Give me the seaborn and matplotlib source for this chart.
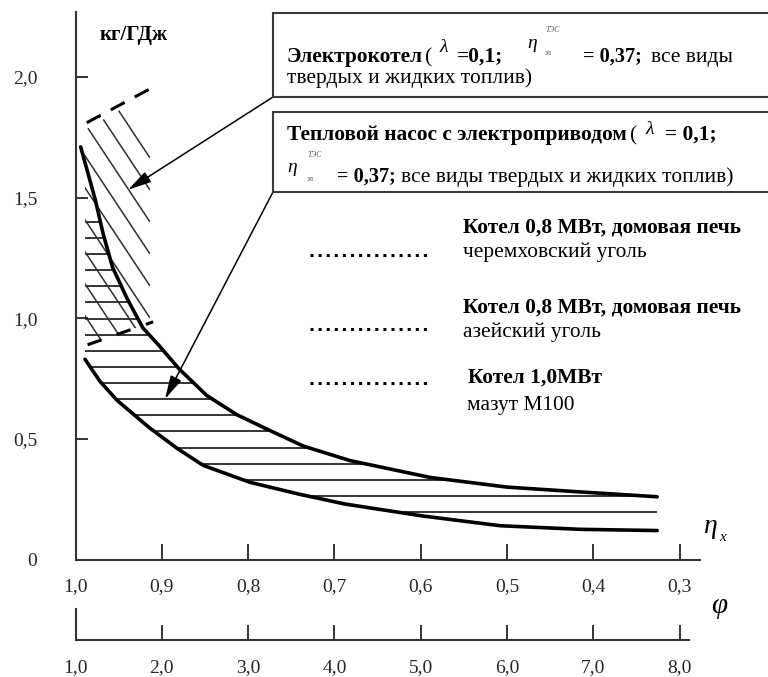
import numpy as np
import matplotlib
matplotlib.use('Agg')
import matplotlib.pyplot as plt
import matplotlib.patches as patches
from matplotlib.lines import Line2D
from matplotlib.collections import LineCollection
import seaborn as sns

sns.set_style('white')
plt.rcParams['font.family'] = ['Liberation Serif', 'DejaVu Serif']

# boiler efficiency (x) vs specific fuel consumption, kg/GJ (y)
# upper border of the heat pump zone
eta_upper = [0.994, 0.977, 0.968, 0.957, 0.940, 0.922, 0.904, 0.880, 0.848,
             0.813, 0.778, 0.736, 0.682, 0.589, 0.500, 0.415, 0.326]
val_upper = [1.71, 1.49, 1.35, 1.21, 1.08, 0.96, 0.89, 0.79, 0.68,
             0.60, 0.54, 0.47, 0.41, 0.34, 0.30, 0.28, 0.26]
# lower border of the heat pump zone
eta_lower = [0.989, 0.972, 0.952, 0.914, 0.882, 0.852, 0.798, 0.740, 0.688,
             0.597, 0.508, 0.415, 0.326]
val_lower = [0.83, 0.74, 0.66, 0.545, 0.46, 0.39, 0.32, 0.27, 0.23,
             0.18, 0.14, 0.125, 0.12]

# electric boiler zone (dashed borders)
eb_top_eta = [0.987, 0.914]
eb_top_val = [1.81, 1.95]
eb_bot_eta = [0.986, 0.910]
eb_bot_val = [0.89, 0.985]

eta_ticks = [1.0, 0.9, 0.8, 0.7, 0.6, 0.5, 0.4, 0.3]
eta_labels = ['1,0', '0,9', '0,8', '0,7', '0,6', '0,5', '0,4', '0,3']
phi_ticks = [1, 2, 3, 4, 5, 6, 7, 8]
phi_labels = ['1,0', '2,0', '3,0', '4,0', '5,0', '6,0', '7,0', '8,0']
val_ticks = [0, 0.5, 1.0, 1.5, 2.0]
val_labels = ['0', '0,5', '1,0', '1,5', '2,0']

W, H = 768, 677
fig = plt.figure(figsize=(W / 100, H / 100), dpi=100)


def fx(x):
    return x / W


def fy(y):
    return 1 - y / H


def put(x, y, s, size=15.4, weight='normal', style='normal', color='black'):
    fig.text(fx(x), fy(y), s, fontsize=size, fontweight=weight, fontstyle=style,
             color=color, ha='left', va='baseline', zorder=10)


axc = '#333333'
ax = fig.add_axes([fx(75.5), fy(559.5), (700 - 75.5) / W, (559.5 - 12) / H])
ax.set_xlim(1.0, 0.2764)
ax.set_ylim(0, 2.269)

# horizontal hatching of the heat pump zone
levels = np.linspace(0.197, 1.399, 19)
x_left = np.interp(levels, val_lower[::-1], eta_lower[::-1])
x_right = np.interp(levels, val_upper[::-1], eta_upper[::-1])
ax.hlines(levels, x_left, x_right, color='black', lw=1.1, zorder=2)

# diagonal hatching of the electric boiler zone
clip = patches.Polygon([(0.989, 1.78), (0.9137, 1.935), (0.9137, 0.98), (0.989, 0.885)],
                       closed=True, transform=ax.transData)
segs = []
for c in np.arange(158, 430, 32):
    v0 = (559.5 - c) / 241.25
    segs.append([(0.9137, v0), (1.0, v0 + 5.4 * 0.0863)])
lc = LineCollection(segs, colors='#303030', linewidths=1.1, zorder=2)
lc.set_clip_path(clip)
ax.add_collection(lc)

ax.plot(eb_top_eta, eb_top_val, color='black', lw=2.2, ls=(0, (5.2, 3.7)), zorder=3)
ax.plot(eb_bot_eta, eb_bot_val, color='black', lw=2.2, ls=(0, (4.8, 5.3)), zorder=3)

sns.lineplot(x=eta_upper, y=val_upper, sort=False, color='black', lw=2.6, ax=ax, zorder=4)
sns.lineplot(x=eta_lower, y=val_lower, sort=False, color='black', lw=2.6, ax=ax, zorder=4)

ax.set_xticks(eta_ticks, eta_labels)
ax.set_yticks(val_ticks, val_labels)
ax.tick_params(axis='x', bottom=True, direction='in', length=11.5, width=1.4, pad=13.3,
               labelsize=14, color=axc)
ax.tick_params(axis='y', left=True, direction='in', length=8.6, width=1.4, pad=27.4,
               labelsize=14, color=axc)
ax.yaxis.get_major_ticks()[0].tick1line.set_visible(False)
ax.spines[['top', 'right']].set_visible(False)
for s in ['left', 'bottom']:
    ax.spines[s].set_linewidth(1.5)
    ax.spines[s].set_color(axc)
ax.set_xlabel('')
ax.set_ylabel('')

# second scale (phi)
ax2 = fig.add_axes([fx(75.5), fy(640), (689 - 75.5) / W, 31 / H])
ax2.set_xlim(1, 8.11)
ax2.set_ylim(0, 1)
ax2.set_yticks([])
ax2.set_xticks(phi_ticks, phi_labels)
ax2.tick_params(axis='x', bottom=True, direction='in', length=10.8, width=1.4, pad=13.7,
                labelsize=14, color=axc)
ax2.spines[['top', 'right']].set_visible(False)
for s in ['left', 'bottom']:
    ax2.spines[s].set_linewidth(1.5)
    ax2.spines[s].set_color(axc)
ax2.patch.set_alpha(0)

# arrows from the boxes
for tip, start in [((0.9392, 1.532), (273, H - 97)), ((0.8963, 0.665), (273, H - 192))]:
    ax.annotate('', xy=tip, xycoords='data', xytext=start,
                textcoords='figure pixels', annotation_clip=False,
                arrowprops=dict(arrowstyle='-|>,head_length=0.8,head_width=0.2',
                                color='black', lw=1.1, mutation_scale=18,
                                shrinkA=0, shrinkB=0))

# boxes
for top, bot in [(13, 97), (112, 192)]:
    fig.add_artist(patches.Rectangle((fx(273), fy(bot)), (820 - 273) / W, (bot - top) / H,
                                     transform=fig.transFigure, facecolor='white',
                                     edgecolor='#3a3a3a', lw=1.5, zorder=5))

# box 1 text
put(287, 62, 'Электрокотел', weight='bold')
put(425, 62, '(')
put(439, 52, 'λ', style='italic', size=14)
put(457, 62, '=0,1;', weight='bold')
put(527, 48, 'η', style='italic', size=14)
put(545, 32, 'ТЭС', style='italic', size=5.5, color='#555555')
put(545, 55, 'эл', size=5.5, color='#555555')
put(583, 62, '= 0,37;', weight='bold', size=14.6)
put(651, 62, 'все виды')
put(287, 83, 'твердых и жидких топлив)')

# box 2 text
put(287, 140, 'Тепловой насос с электроприводом', weight='bold')
put(630, 140, '(')
put(645, 134, 'λ', style='italic', size=14)
put(665, 140, '= 0,1;', weight='bold')
put(287, 172, 'η', style='italic', size=14)
put(307, 157, 'ТЭС', style='italic', size=5.5, color='#555555')
put(307, 181, 'эл', size=5.5, color='#555555')
put(337, 182, '= 0,37;', weight='bold', size=14.6)
put(401, 182, 'все виды твердых и жидких топлив)')

# legend-like notes with dotted marks
for yy in [255, 329, 383]:
    fig.add_artist(Line2D([fx(310), fx(427)], [fy(yy), fy(yy)], transform=fig.transFigure,
                          ls=':', lw=2.2, color='black'))
put(463, 233, 'Котел 0,8 МВт, домовая печь', weight='bold')
put(463, 257, 'черемховский уголь')
put(463, 312, 'Котел 0,8 МВт, домовая печь', weight='bold')
put(463, 337, 'азейский уголь')
put(468, 383, 'Котел 1,0МВт', weight='bold')
put(467, 410, 'мазут М100')

# axis names
put(100, 40, 'кг/ГДж', weight='bold', size=15)
put(703, 533, 'η', style='italic', size=20)
put(719, 541, 'x', style='italic', size=11)
put(711, 613, 'φ', style='italic', size=21)

fig.savefig('out.png', dpi=100)
